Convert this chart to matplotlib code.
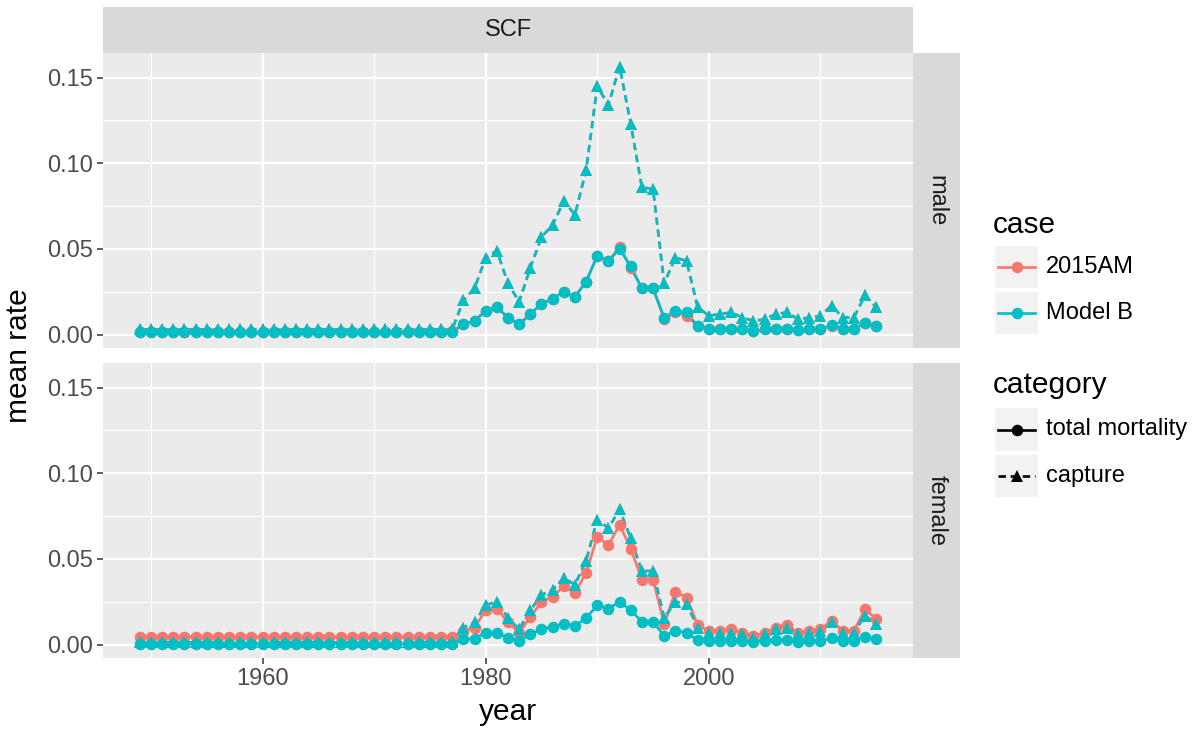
import matplotlib
matplotlib.use("Agg")
import matplotlib.pyplot as plt
from matplotlib.lines import Line2D
from matplotlib.patches import Rectangle
from matplotlib.ticker import MultipleLocator

plt.rcParams['font.family'] = ['Liberation Sans', 'DejaVu Sans']

# ---------------- data ----------------
years = list(range(1949, 2016))

# male panel
male_total_2015AM = [
    0.0015, 0.0015, 0.0015, 0.0015, 0.0015, 0.0015, 0.0015, 0.0015, 0.0015, 0.0015,
    0.0015, 0.0015, 0.0015, 0.0015, 0.0015, 0.0015, 0.0015, 0.0015, 0.0015, 0.0015,
    0.0015, 0.0015, 0.0015, 0.0015, 0.0015, 0.0015, 0.0015, 0.0015,
    0.002, 0.006, 0.008, 0.014, 0.016, 0.010, 0.006, 0.012, 0.018, 0.021,
    0.025, 0.022, 0.031, 0.046, 0.043, 0.051, 0.039, 0.027, 0.027, 0.009,
    0.013, 0.011, 0.005, 0.0035, 0.0035, 0.0035, 0.003, 0.002, 0.003, 0.0035,
    0.0035, 0.0027, 0.003, 0.0033, 0.005, 0.003, 0.003, 0.007, 0.005]
male_total_ModelB = [
    0.0015, 0.0015, 0.0015, 0.0015, 0.0015, 0.0015, 0.0015, 0.0015, 0.0015, 0.0015,
    0.0015, 0.0015, 0.0015, 0.0015, 0.0015, 0.0015, 0.0015, 0.0015, 0.0015, 0.0015,
    0.0015, 0.0015, 0.0015, 0.0015, 0.0015, 0.0015, 0.0015, 0.0015,
    0.0015, 0.006, 0.008, 0.014, 0.016, 0.010, 0.006, 0.012, 0.018, 0.021,
    0.025, 0.022, 0.031, 0.046, 0.043, 0.050, 0.040, 0.027, 0.027, 0.010,
    0.014, 0.013, 0.005, 0.0035, 0.0035, 0.0035, 0.003, 0.002, 0.003, 0.0035,
    0.0035, 0.0027, 0.003, 0.0033, 0.0054, 0.003, 0.003, 0.007, 0.005]
male_capture_ModelB = [
    0.003, 0.003, 0.003, 0.003, 0.003, 0.003, 0.003, 0.003, 0.003, 0.003,
    0.003, 0.003, 0.003, 0.003, 0.003, 0.003, 0.003, 0.003, 0.003, 0.003,
    0.003, 0.003, 0.003, 0.003, 0.003, 0.003, 0.003, 0.003,
    0.003, 0.020, 0.027, 0.045, 0.049, 0.030, 0.019, 0.039, 0.057, 0.064,
    0.078, 0.070, 0.096, 0.145, 0.134, 0.1565, 0.123, 0.086, 0.085, 0.030,
    0.045, 0.043, 0.016, 0.011, 0.012, 0.013, 0.010, 0.008, 0.009, 0.012,
    0.013, 0.009, 0.010, 0.011, 0.017, 0.010, 0.010, 0.023, 0.016]
male_capture_2015AM = list(male_capture_ModelB)

# female panel
female_total_2015AM = [
    0.0046, 0.0046, 0.0046, 0.0046, 0.0046, 0.0046, 0.0046, 0.0046, 0.0046, 0.0046,
    0.0046, 0.0046, 0.0046, 0.0046, 0.0046, 0.0046, 0.0046, 0.0046, 0.0046, 0.0046,
    0.0046, 0.0046, 0.0046, 0.0046, 0.0046, 0.0046, 0.0046, 0.0046,
    0.0046, 0.008, 0.010, 0.020, 0.021, 0.013, 0.007, 0.016, 0.025, 0.028,
    0.034, 0.030, 0.042, 0.063, 0.058, 0.070, 0.056, 0.038, 0.038, 0.012,
    0.031, 0.0275, 0.0115, 0.008, 0.008, 0.009, 0.007, 0.005, 0.007, 0.010,
    0.0115, 0.007, 0.008, 0.009, 0.014, 0.008, 0.008, 0.0207, 0.015]
female_total_ModelB = [
    0.0006, 0.0006, 0.0006, 0.0006, 0.0006, 0.0006, 0.0006, 0.0006, 0.0006, 0.0006,
    0.0006, 0.0006, 0.0006, 0.0006, 0.0006, 0.0006, 0.0006, 0.0006, 0.0006, 0.0006,
    0.0006, 0.0006, 0.0006, 0.0006, 0.0006, 0.0006, 0.0006, 0.0006,
    0.0006, 0.003, 0.0035, 0.007, 0.007, 0.004, 0.0023, 0.006, 0.009, 0.0105,
    0.012, 0.011, 0.0155, 0.023, 0.021, 0.025, 0.020, 0.0135, 0.0135, 0.005,
    0.008, 0.007, 0.0025, 0.002, 0.0023, 0.0023, 0.002, 0.0015, 0.0023, 0.0025,
    0.0025, 0.0018, 0.0022, 0.0023, 0.0037, 0.0023, 0.0023, 0.0046, 0.003]
female_capture_ModelB = [
    0.0013, 0.0013, 0.0013, 0.0013, 0.0013, 0.0013, 0.0013, 0.0013, 0.0013, 0.0013,
    0.0013, 0.0013, 0.0013, 0.0013, 0.0013, 0.0013, 0.0013, 0.0013, 0.0013, 0.0013,
    0.0013, 0.0013, 0.0013, 0.0013, 0.0013, 0.0013, 0.0013, 0.0013,
    0.0013, 0.010, 0.013, 0.023, 0.025, 0.0155, 0.009, 0.020, 0.029, 0.032,
    0.039, 0.035, 0.049, 0.073, 0.068, 0.079, 0.062, 0.043, 0.043, 0.0155,
    0.025, 0.024, 0.010, 0.007, 0.007, 0.007, 0.006, 0.004, 0.006, 0.009,
    0.010, 0.006, 0.007, 0.008, 0.013, 0.007, 0.007, 0.017, 0.012]
female_capture_2015AM = list(female_capture_ModelB)

cases = ["2015AM", "Model B"]
categories = ["total mortality", "capture"]
sexes = ["male", "female"]
facet_title = "SCF"
x_label = "year"
y_label = "mean rate"

panel_data = {
    "male": {("2015AM", "total mortality"): male_total_2015AM,
             ("2015AM", "capture"): male_capture_2015AM,
             ("Model B", "total mortality"): male_total_ModelB,
             ("Model B", "capture"): male_capture_ModelB},
    "female": {("2015AM", "total mortality"): female_total_2015AM,
               ("2015AM", "capture"): female_capture_2015AM,
               ("Model B", "total mortality"): female_total_ModelB,
               ("Model B", "capture"): female_capture_ModelB},
}

# ---------------- style ----------------
case_colors = {"2015AM": "#F8766D", "Model B": "#00BFC4"}
cat_marker = {"total mortality": "o", "capture": "^"}
cat_ms = {"total mortality": 8.3, "capture": 9.2}
cat_ls = {"total mortality": "-", "capture": (0, (2.8, 1.8))}
PANEL_BG = "#EBEBEB"
STRIP_BG = "#D9D9D9"
TICK_COLOR = "#4D4D4D"
FS_SMALL = 17
FS_TITLE = 21.5

W, H = 1198, 732
fig = plt.figure(figsize=(W / 100, H / 100), dpi=100)


def fx(px):
    return px / W


def fy(py):
    return 1 - py / H


pl, pr = 103, 913
panels_px = {"male": (53, 348), "female": (363, 658)}

ymin = -0.0078
ymax = 0.1644
xmin, xmax = 1945.7, 2018.3

axes = {}
for sex in sexes:
    top, bot = panels_px[sex]
    ax = fig.add_axes([fx(pl), fy(bot), fx(pr) - fx(pl), fy(top) - fy(bot)])
    ax.set_facecolor(PANEL_BG)
    for s in ax.spines.values():
        s.set_visible(False)
    ax.set_xlim(xmin, xmax)
    ax.set_ylim(ymin, ymax)
    ax.xaxis.set_major_locator(MultipleLocator(20))
    ax.xaxis.set_minor_locator(MultipleLocator(10))
    ax.yaxis.set_major_locator(MultipleLocator(0.05))
    ax.yaxis.set_minor_locator(MultipleLocator(0.025))
    ax.grid(which="major", color="white", lw=1.6, zorder=0)
    ax.grid(which="minor", color="white", lw=0.8, zorder=0)
    ax.set_axisbelow(True)
    ax.tick_params(axis="both", which="major", length=4, width=1.1, color="#333333",
                   labelcolor=TICK_COLOR, labelsize=FS_SMALL, pad=3.5)
    ax.tick_params(axis="both", which="minor", length=0)
    ax.yaxis.set_major_formatter(matplotlib.ticker.FuncFormatter(lambda v, p: f"{v:.2f}"))
    if sex == "male":
        ax.tick_params(axis="x", labelbottom=False, length=0)

    # lines first
    for case in cases:
        for cat in categories:
            ax.plot(years, panel_data[sex][(case, cat)], color=case_colors[case],
                    ls=cat_ls[cat], lw=1.9, zorder=2, solid_capstyle="butt",
                    dash_capstyle="butt")
    # then points
    for case in cases:
        for cat in categories:
            ax.plot(years, panel_data[sex][(case, cat)], ls="none",
                    marker=cat_marker[cat], ms=cat_ms[cat],
                    color=case_colors[case], markeredgewidth=0, zorder=3)
    axes[sex] = ax

    # right strip
    sax = fig.add_axes([fx(pr), fy(bot), fx(960) - fx(pr), fy(top) - fy(bot)])
    sax.set_facecolor(STRIP_BG)
    sax.set_xticks([]); sax.set_yticks([])
    for s in sax.spines.values():
        s.set_visible(False)
    sax.text(0.5, 0.5, sex, rotation=-90, ha="center", va="center",
             fontsize=FS_SMALL, color="#1A1A1A", transform=sax.transAxes)

# top strip
tax = fig.add_axes([fx(pl), fy(53), fx(pr) - fx(pl), fy(7) - fy(53)])
tax.set_facecolor(STRIP_BG)
tax.set_xticks([]); tax.set_yticks([])
for s in tax.spines.values():
    s.set_visible(False)
tax.text(0.5, 0.5, facet_title, ha="center", va="center", fontsize=FS_SMALL,
         color="#1A1A1A", transform=tax.transAxes)

# axis titles
fig.text(fx((pl + pr) / 2), fy(712), x_label, ha="center", va="center", fontsize=FS_TITLE)
fig.text(fx(19), fy((53 + 658) / 2), y_label, ha="center", va="center",
         rotation=90, fontsize=FS_TITLE)

# legend (overlay in pixel coordinates)
lax = fig.add_axes([0, 0, 1, 1], facecolor="none")
lax.set_xlim(0, W)
lax.set_ylim(H, 0)
lax.axis("off")

lax.text(993, 225, "case", fontsize=FS_TITLE, ha="left", va="center")
lax.text(993, 385, "category", fontsize=FS_TITLE, ha="left", va="center")

key_x0, key_x1 = 995, 1038
case_keys = [(246, 288), (292, 334)]
cat_keys = [(408, 451), (455, 497)]
for (y0, y1), case in zip(case_keys, cases):
    lax.add_patch(Rectangle((key_x0, y0), key_x1 - key_x0, y1 - y0, facecolor="#F2F2F2",
                            edgecolor="none"))
    yc = (y0 + y1) / 2
    lax.add_line(Line2D([998, 1035], [yc, yc], color=case_colors[case], lw=1.9))
    lax.plot([1016.5], [yc], marker="o", ms=cat_ms["total mortality"],
             color=case_colors[case], mew=0)
    lax.text(1046, yc, case, fontsize=FS_SMALL, ha="left", va="center")
for (y0, y1), cat in zip(cat_keys, categories):
    lax.add_patch(Rectangle((key_x0, y0), key_x1 - key_x0, y1 - y0, facecolor="#F2F2F2",
                            edgecolor="none"))
    yc = (y0 + y1) / 2
    lax.add_line(Line2D([998, 1035], [yc, yc], color="black", lw=1.9, ls=cat_ls[cat],
                        dash_capstyle="butt"))
    lax.plot([1016.5], [yc], marker=cat_marker[cat], ms=cat_ms[cat], color="black", mew=0)
    lax.text(1046, yc, cat, fontsize=FS_SMALL, ha="left", va="center")

fig.savefig("out.png", dpi=100)
